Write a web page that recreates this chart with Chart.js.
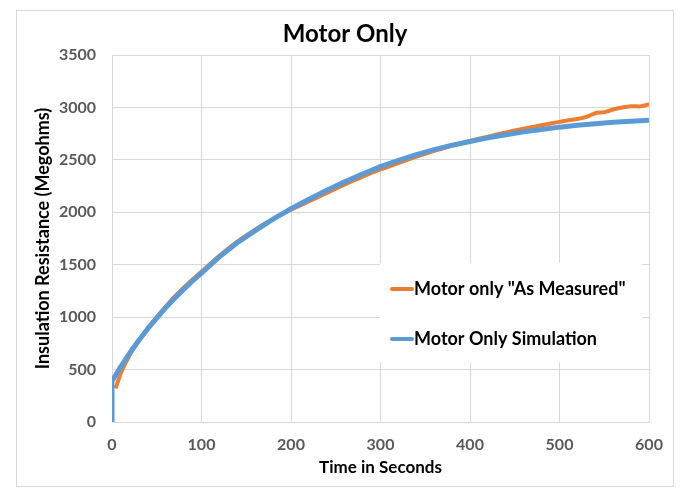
<!DOCTYPE html>
<html>
<head>
<meta charset="utf-8">
<script src="https://cdn.jsdelivr.net/npm/chart.js@4/dist/chart.umd.min.js"></script>
<style>
  html, body { margin: 0; padding: 0; background: #fff; }
  #wrap { width: 682px; height: 490px; }
</style>
</head>
<body>
<div id="wrap"><canvas id="chart" width="682" height="490"></canvas></div>
<script>
// values
const chartTitle = "Motor Only";
const xTitle = "Time in Seconds";
const yTitle = "Insulation Resistance (Megohms)";

const measuredLabel = 'Motor only "As Measured"';
const measuredTime = [4, 10, 20, 30, 40, 50, 60, 70, 80, 90, 100, 120, 140, 160, 180, 200, 220, 240, 260, 280, 300,
  320, 340, 360, 380, 400, 420, 440, 460, 480, 500, 510, 520, 530, 540, 550, 560, 570, 580, 590, 600];
const measuredMegohms = [320, 470, 640, 775, 895, 1000, 1100, 1195, 1280, 1360, 1435, 1585, 1720, 1835, 1935, 2025,
  2105, 2185, 2265, 2340, 2408, 2470, 2530, 2585, 2635, 2680, 2722, 2762, 2797, 2830, 2862, 2878, 2890, 2910, 2945,
  2955, 2980, 3000, 3012, 3010, 3030];

const simLabel = "Motor Only Simulation";
const simTime = [0, 0, 10, 20, 30, 40, 50, 60, 70, 80, 90, 100, 120, 140, 160, 180, 200, 220, 240, 260, 280, 300,
  320, 340, 360, 380, 400, 420, 440, 460, 480, 500, 520, 540, 560, 580, 600];
const simMegohms = [0, 390, 530, 660, 780, 890, 990, 1090, 1180, 1265, 1345, 1420, 1575, 1710, 1825, 1935, 2035,
  2125, 2210, 2290, 2365, 2435, 2495, 2550, 2598, 2640, 2675, 2710, 2740, 2767, 2790, 2812, 2830, 2845, 2858, 2868, 2877];

const xTicks = [0, 100, 200, 300, 400, 500, 600];
const yTicks = [0, 500, 1000, 1500, 2000, 2500, 3000, 3500];

const FONT = "Lato, 'Open Sans', sans-serif";
const toPoints = (xs, ys) => xs.map((x, i) => ({ x: x, y: ys[i] }));

// frame, title and the legend box sitting inside the plot
const decorPlugin = {
  id: "decor",
  beforeDraw(chart) {
    const ctx = chart.ctx;
    ctx.save();
    ctx.fillStyle = "#fff";
    ctx.fillRect(0, 0, chart.width, chart.height);
    ctx.strokeStyle = "#d9d9d9";
    ctx.lineWidth = 1;
    ctx.strokeRect(16.5, 10.5, 657, 476);
    ctx.fillStyle = "#000";
    ctx.font = "bold 24px " + FONT;
    ctx.textAlign = "center";
    ctx.textBaseline = "middle";
    ctx.fillText(chartTitle, 345, 34);
    ctx.restore();
  },
  afterDatasetsDraw(chart) {
    const ctx = chart.ctx;
    ctx.save();
    ctx.fillStyle = "#fff";
    ctx.fillRect(380, 263, 262, 99);
    ctx.font = "bold 18px " + FONT;
    ctx.textBaseline = "middle";
    ctx.textAlign = "left";
    const rows = [chart.data.datasets[0], chart.data.datasets[1]];
    rows.forEach((ds, i) => {
      const y = 289 + i * 50;
      ctx.strokeStyle = ds.borderColor;
      ctx.lineWidth = 4;
      ctx.lineCap = "round";
      ctx.beginPath();
      ctx.moveTo(392, y);
      ctx.lineTo(412, y);
      ctx.stroke();
      ctx.fillStyle = "#000";
      ctx.fillText(ds.label, 414, y);
    });
    ctx.restore();
  },
};

const tickFont = { family: FONT, size: 16, weight: "bold" };

const ctx = document.getElementById("chart").getContext("2d");
new Chart(ctx, {
  type: "line",
  data: {
    datasets: [
      {
        label: measuredLabel,
        data: toPoints(measuredTime, measuredMegohms),
        borderColor: "#ED7D31",
        borderWidth: 4,
        pointRadius: 0,
        tension: 0.2,
        order: 2,
      },
      {
        label: simLabel,
        data: toPoints(simTime, simMegohms),
        borderColor: "#5B9BD5",
        borderWidth: 5,
        borderJoinStyle: "round",
        pointRadius: 0,
        tension: 0,
        order: 1,
      },
    ],
  },
  options: {
    responsive: false,
    animation: false,
    devicePixelRatio: 1,
    layout: { padding: { top: 55, right: 33, left: 0, bottom: 0 } },
    scales: {
      x: {
        type: "linear",
        min: 0,
        max: 600,
        afterBuildTicks: s => { s.ticks = xTicks.map(v => ({ value: v })); },
        afterFit: s => { s.height = 68; },
        grid: { color: "#d9d9d9", drawTicks: false },
        border: { color: "#d9d9d9" },
        ticks: { padding: 13, color: "#595959", font: tickFont, maxRotation: 0, callback: v => String(v) },
        title: { display: true, text: xTitle, color: "#000", font: { family: FONT, size: 17, weight: "bold" }, padding: { top: 0, bottom: 12 } },
      },
      y: {
        type: "linear",
        min: 0,
        max: 3500,
        afterBuildTicks: s => { s.ticks = yTicks.map(v => ({ value: v })); },
        afterFit: s => { s.width = 112; },
        grid: { color: "#d9d9d9", drawTicks: false },
        border: { color: "#d9d9d9" },
        ticks: { padding: 16, color: "#595959", font: tickFont, callback: v => String(v) },
        title: { display: true, text: yTitle, color: "#000", font: { family: FONT, size: 18, weight: "bold" }, padding: { top: 32, bottom: 0 } },
      },
    },
    plugins: {
      legend: { display: false },
      title: { display: false },
      tooltip: { enabled: false },
    },
  },
  plugins: [decorPlugin],
});
</script>
</body>
</html>
